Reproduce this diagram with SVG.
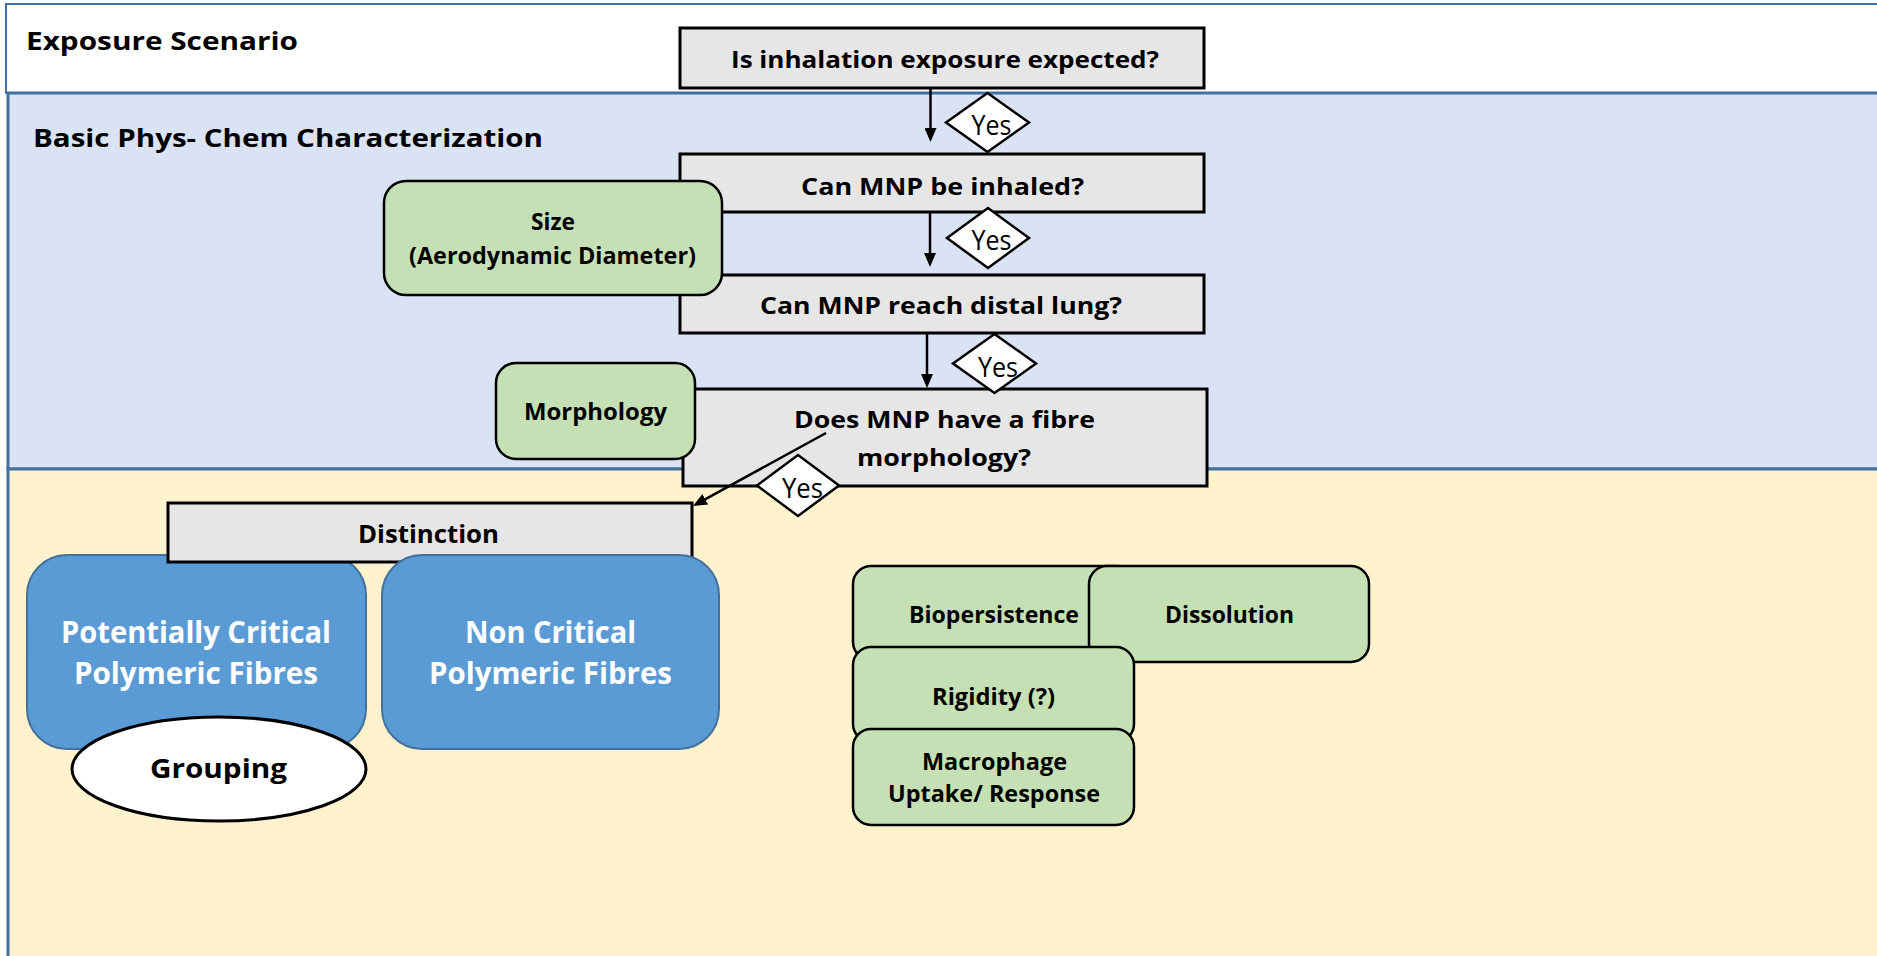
<svg xmlns="http://www.w3.org/2000/svg" width="1877" height="956" viewBox="0 0 1877 956">
<style>
.band{stroke:#41719c}
.q{fill:#e7e6e6;stroke:#000;stroke-width:3}
.g{fill:#c5e0b4;stroke:#000;stroke-width:2.5}
.b{fill:#5b9bd5;stroke:#41719c;stroke-width:2}
.t{font-family:"Open Sans","DejaVu Sans","Liberation Sans",sans-serif;font-weight:bold;fill:#000}
.w{fill:#fff}
.y{font-family:"Open Sans","Liberation Sans",sans-serif;font-size:27px;fill:#000}
.c{stroke:#000;stroke-width:2.5;fill:none}
.d{fill:#fff;stroke:#000;stroke-width:2.5}
</style>
<defs>
<marker id="ah" viewBox="0 0 14 12" refX="6" refY="6" markerWidth="14" markerHeight="12" markerUnits="userSpaceOnUse" orient="auto">
<path d="M0,0 L14,6 L0,12 z" fill="#000"/>
</marker>
</defs>

<g id="bands">
<rect class="band" x="6" y="4" width="1885" height="89" fill="#ffffff" stroke-width="2"/>
<rect class="band" x="8" y="93" width="1885" height="376" fill="#dae3f3" stroke-width="3"/>
<rect class="band" x="8" y="469" width="1885" height="520" fill="#fff2cc" stroke-width="3"/>
<text class="t" x="26" y="50" font-size="24.5" textLength="272" lengthAdjust="spacingAndGlyphs">Exposure Scenario</text>
<text class="t" x="33" y="147" font-size="25.5" textLength="510" lengthAdjust="spacingAndGlyphs">Basic Phys- Chem Characterization</text>
</g>

<g id="q1">
<rect class="q" x="680" y="28" width="524" height="60"/>
<text class="t" x="731" y="68" font-size="23.5" textLength="428" lengthAdjust="spacingAndGlyphs">Is inhalation exposure expected?</text>
</g>
<g id="q2">
<rect class="q" x="680" y="154" width="524" height="58"/>
<text class="t" x="801" y="195" font-size="23.5" textLength="283" lengthAdjust="spacingAndGlyphs">Can MNP be inhaled?</text>
</g>
<g id="q3">
<rect class="q" x="680" y="275" width="524" height="58"/>
<text class="t" x="760" y="314" font-size="23.5" textLength="362" lengthAdjust="spacingAndGlyphs">Can MNP reach distal lung?</text>
</g>
<g id="size">
<rect class="g" x="384" y="181" width="338" height="114" rx="22"/>
<text class="t" x="531" y="230" font-size="23" textLength="44" lengthAdjust="spacingAndGlyphs">Size</text>
<text class="t" x="409" y="264" font-size="23" textLength="287" lengthAdjust="spacingAndGlyphs">(Aerodynamic Diameter)</text>
</g>
<g id="q4">
<rect class="q" x="683" y="389" width="524" height="97"/>
<text class="t" x="794" y="428" font-size="23.5" textLength="301" lengthAdjust="spacingAndGlyphs">Does MNP have a fibre</text>
<text class="t" x="857" y="466" font-size="23.5" textLength="174" lengthAdjust="spacingAndGlyphs">morphology?</text>
</g>
<g id="morphology">
<rect class="g" x="496" y="363" width="199" height="96" rx="20"/>
<text class="t" x="524" y="420" font-size="23" textLength="143" lengthAdjust="spacingAndGlyphs">Morphology</text>
</g>

<g id="potentially-critical">
<rect class="b" x="27" y="555" width="339" height="194" rx="40"/>
<text class="t w" x="61" y="643" font-size="30" textLength="270" lengthAdjust="spacingAndGlyphs">Potentially Critical</text>
<text class="t w" x="74" y="684" font-size="30" textLength="244" lengthAdjust="spacingAndGlyphs">Polymeric Fibres</text>
</g>
<g id="distinction">
<rect class="q" x="168" y="503" width="524" height="59"/>
<text class="t" x="358" y="543" font-size="25" textLength="141" lengthAdjust="spacingAndGlyphs">Distinction</text>
</g>
<g id="non-critical">
<rect class="b" x="382" y="555" width="337" height="194" rx="40"/>
<text class="t w" x="465" y="643" font-size="30" textLength="171" lengthAdjust="spacingAndGlyphs">Non Critical</text>
<text class="t w" x="429" y="684" font-size="30" textLength="243" lengthAdjust="spacingAndGlyphs">Polymeric Fibres</text>
</g>
<g id="grouping">
<ellipse cx="219" cy="769" rx="147" ry="52" fill="#fff" stroke="#000" stroke-width="3"/>
<text class="t" x="150" y="778" font-size="27" textLength="137" lengthAdjust="spacingAndGlyphs">Grouping</text>
</g>

<g id="biopersistence">
<rect class="g" x="853" y="566" width="282" height="94" rx="18"/>
<text class="t" x="909" y="623" font-size="24" textLength="170" lengthAdjust="spacingAndGlyphs">Biopersistence</text>
</g>
<g id="dissolution">
<rect class="g" x="1089" y="566" width="280" height="96" rx="18"/>
<text class="t" x="1165" y="623" font-size="24" textLength="129" lengthAdjust="spacingAndGlyphs">Dissolution</text>
</g>
<g id="rigidity">
<rect class="g" x="853" y="647" width="281" height="95" rx="18"/>
<text class="t" x="932" y="705" font-size="24" textLength="123" lengthAdjust="spacingAndGlyphs">Rigidity (?)</text>
</g>
<g id="macrophage">
<rect class="g" x="853" y="729" width="281" height="96" rx="18"/>
<text class="t" x="922" y="770" font-size="23" textLength="145" lengthAdjust="spacingAndGlyphs">Macrophage</text>
<text class="t" x="888" y="802" font-size="23" textLength="212" lengthAdjust="spacingAndGlyphs">Uptake/ Response</text>
</g>

<g id="connectors">
<line class="c" x1="930.5" y1="88" x2="930.5" y2="134" marker-end="url(#ah)"/>
<line class="c" x1="930" y1="212" x2="930" y2="259" marker-end="url(#ah)"/>
<line class="c" x1="927" y1="333" x2="927" y2="380" marker-end="url(#ah)"/>
<line class="c" x1="826" y1="433" x2="700" y2="502.2" marker-end="url(#ah)"/>
<g id="yes1">
<polygon class="d" points="946,122.5 987.5,93 1029,122.5 987.5,152"/>
<text class="y" x="971.5" y="135" textLength="40" lengthAdjust="spacingAndGlyphs">Yes</text>
</g>
<g id="yes2">
<polygon class="d" points="947,238 988,208 1029,238 988,268"/>
<text class="y" x="971.5" y="250" textLength="40" lengthAdjust="spacingAndGlyphs">Yes</text>
</g>
<g id="yes3">
<polygon class="d" points="953,363.5 994.5,334 1036,363.5 994.5,393"/>
<text class="y" x="978" y="377" textLength="40" lengthAdjust="spacingAndGlyphs">Yes</text>
</g>
<g id="yes4">
<polygon class="d" points="757,485.5 798,455 839,485.5 798,516"/>
<text class="y" x="782" y="498" textLength="41" lengthAdjust="spacingAndGlyphs">Yes</text>
</g>
</g>
</svg>
